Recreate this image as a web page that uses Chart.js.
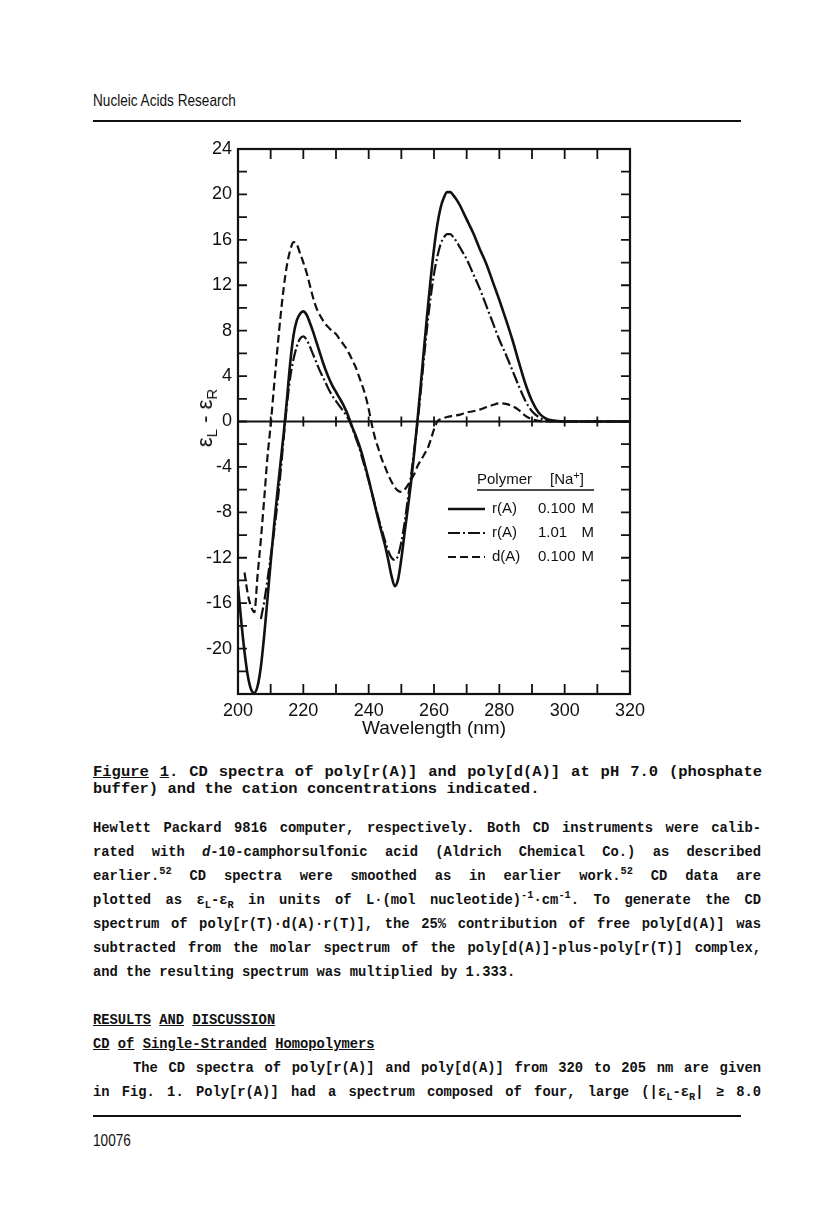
<!DOCTYPE html>
<html lang="en">
<head>
<meta charset="UTF-8">
<title>CD spectra of poly[r(A)] and poly[d(A)]</title>
<script src="https://cdn.jsdelivr.net/npm/chart.js"></script>
<style>
  body { margin: 0; background: #fff; }
  .page { position: relative; width: 816px; height: 1223px; overflow: hidden; color: #111; }
  .head { position: absolute; left: 93px; font-family: 'Liberation Sans', Arial, sans-serif; font-size: 17px;
          transform: scaleX(0.8); transform-origin: left center; white-space: nowrap; }
  .rule { position: absolute; left: 93px; width: 648px; height: 2px; background: #111; }
  .chart-box { position: absolute; left: 150px; top: 130px; width: 520px; height: 620px; }
  .ytitle { position: absolute; left: 205px; top: 418px; font-family: 'Liberation Sans', Arial, sans-serif;
            font-size: 22px; white-space: nowrap; transform: translate(-50%, -50%) rotate(-90deg); }
  .ytitle sub { font-size: 15px; line-height: 0; }
  .tw { font-family: 'Liberation Mono', 'Courier New', monospace; font-weight: bold; }
  .caption { position: absolute; left: 93px; top: 764px; width: 669px; font-size: 15.5px; line-height: 17px; }
  .text { position: absolute; left: 93px; top: 817px; width: 668px; font-size: 13.8px; line-height: 24px; }
  .j { text-align: justify; text-align-last: justify; }
  .tw sup, .tw sub { font-size: 0.75em; line-height: 0; }
</style>
</head>
<body>
<div class="page">
  <div class="head" style="top: 91px;">Nucleic Acids Research</div>
  <div class="rule" style="top: 120px;"></div>

  <!-- Figure 1 -->
  <div class="chart-box"><canvas id="cdChart" width="520" height="620"></canvas></div>
  <div class="ytitle">&epsilon;<sub>L</sub> - &epsilon;<sub>R</sub></div>

  <div class="caption tw">
    <div class="j"><u>Figure</u> <u>1</u>. CD spectra of poly[r(A)] and poly[d(A)] at pH 7.0 (phosphate</div>
    <div>buffer) and the cation concentrations indicated.</div>
  </div>

  <div class="text tw">
    <div class="j">Hewlett Packard 9816 computer, respectively. Both CD instruments were calib-</div>
    <div class="j">rated with <i>d</i>-10-camphorsulfonic acid (Aldrich Chemical Co.) as described</div>
    <div class="j">earlier.<sup>52</sup> CD spectra were smoothed as in earlier work.<sup>52</sup> CD data are</div>
    <div class="j">plotted as &epsilon;<sub>L</sub>-&epsilon;<sub>R</sub> in units of L&middot;(mol nucleotide)<sup>-1</sup>&middot;cm<sup>-1</sup>. To generate the CD</div>
    <div class="j">spectrum of poly[r(T)&middot;d(A)&middot;r(T)], the 25% contribution of free poly[d(A)] was</div>
    <div class="j">subtracted from the molar spectrum of the poly[d(A)]-plus-poly[r(T)] complex,</div>
    <div>and the resulting spectrum was multiplied by 1.333.</div>
    <div>&nbsp;</div>
    <div><u>RESULTS</u> <u>AND</u> <u>DISCUSSION</u></div>
    <div><u>CD</u> <u>of</u> <u>Single-Stranded</u> <u>Homopolymers</u></div>
    <div class="j" style="text-indent: 40px;">The CD spectra of poly[r(A)] and poly[d(A)] from 320 to 205 nm are given</div>
    <div class="j">in Fig. 1. Poly[r(A)] had a spectrum composed of four, large (|&epsilon;<sub>L</sub>-&epsilon;<sub>R</sub>| &ge; 8.0</div>
  </div>

  <div class="rule" style="top: 1115px;"></div>
  <div class="head" style="top: 1131px;">10076</div>
</div>

<script>
// wavelength (nm) and eL - eR values
const rA100Wl = [200, 201, 202, 203, 204, 205, 206, 207, 208, 209, 210, 211, 212, 213, 214, 215, 216, 217, 218, 219,
                 220, 221, 222, 223, 224, 225, 226, 227, 228, 229, 230, 231, 232, 233, 234, 235, 236, 237, 238, 239,
                 240, 241, 242, 243, 244, 245, 246, 247, 248, 249, 250, 251, 252, 253, 254, 255, 256, 257, 258, 259,
                 260, 261, 262, 263, 264, 265, 266, 267, 268, 269, 270, 272, 274, 276, 278, 280, 282, 284, 286, 288,
                 290, 292, 294, 296, 300, 310, 320];
const rA100 = [-14.5, -17.6, -20.3, -22.4, -23.6, -23.9, -23.3, -21.6, -18.9, -15.7, -12.4, -9.3, -6.4, -3.7, -1.0, 2.0, 5.2, 7.6, 8.9, 9.5,
               9.7, 9.4, 8.7, 7.9, 7.0, 6.1, 5.2, 4.4, 3.7, 3.1, 2.6, 2.1, 1.6, 1.0, 0.3, -0.5, -1.2, -2.0, -2.9, -4.0,
               -5.1, -6.3, -7.5, -8.7, -9.8, -10.9, -12.2, -13.6, -14.5, -13.9, -12.1, -9.8, -7.6, -5.3, -2.6, 0.3, 3.4, 6.6, 9.7, 12.6,
               15.2, 17.3, 18.8, 19.7, 20.2, 20.2, 19.9, 19.5, 19.0, 18.4, 17.8, 16.6, 15.2, 13.9, 12.3, 10.7, 9.0, 7.2, 5.2, 3.3,
               1.8, 0.8, 0.3, 0.1, 0, 0, 0];

const rA101Wl = [207, 208, 209, 210, 211, 212, 213, 214, 215, 216, 217, 218, 219, 220, 221, 222, 223, 224, 225, 226,
                 227, 228, 229, 230, 231, 232, 233, 234, 235, 236, 237, 238, 239, 240, 241, 242, 243, 244, 245, 246,
                 247, 248, 249, 250, 251, 252, 253, 254, 255, 256, 257, 258, 259, 260, 261, 262, 263, 264, 265, 266,
                 267, 268, 269, 270, 272, 274, 276, 278, 280, 282, 284, 286, 288, 290, 292, 294, 296, 300, 320];
const rA101 = [-17.4, -15.9, -14.0, -11.9, -9.8, -7.4, -4.6, -1.4, 1.5, 3.9, 5.5, 6.6, 7.3, 7.5, 7.2, 6.6, 5.9, 5.2, 4.5, 3.9,
               3.3, 2.7, 2.2, 1.8, 1.4, 1.0, 0.6, 0.1, -0.6, -1.4, -2.2, -3.2, -4.2, -5.2, -6.3, -7.4, -8.5, -9.5, -10.5, -11.4,
               -12.0, -12.2, -11.8, -10.6, -8.9, -6.8, -4.7, -2.4, 0.0, 2.8, 5.8, 8.6, 11.0, 13.0, 14.5, 15.6, 16.2, 16.5, 16.5, 16.2,
               15.8, 15.3, 14.8, 14.3, 13.0, 11.7, 10.2, 8.7, 7.2, 5.9, 4.5, 3.1, 1.8, 0.9, 0.4, 0.1, 0.0, 0, 0];

const dA100Wl = [202, 203, 204, 205, 206, 207, 208, 209, 210, 211, 212, 213, 214, 215, 216, 217, 218, 219, 220, 221,
                 222, 223, 224, 225, 226, 227, 228, 229, 230, 231, 232, 233, 234, 235, 236, 237, 238, 239, 240, 241,
                 242, 243, 244, 245, 246, 247, 248, 249, 250, 251, 252, 253, 254, 255, 256, 257, 258, 259, 260, 261,
                 262, 264, 266, 268, 270, 272, 274, 276, 278, 280, 282, 284, 286, 288, 290, 292, 294, 300, 320];
const dA100 = [-13.3, -15.2, -16.3, -16.8, -13.5, -10.4, -6.9, -3.2, -0.3, 3.0, 6.2, 9.2, 11.8, 13.8, 15.1, 15.8, 15.6, 14.8, 14.0, 13.1,
               12.0, 10.9, 10.0, 9.4, 8.9, 8.5, 8.2, 7.9, 7.7, 7.3, 6.9, 6.5, 6.0, 5.4, 4.8, 4.0, 3.2, 2.3, 1.1, -0.3,
               -1.5, -2.4, -3.3, -4.0, -4.7, -5.3, -5.8, -6.1, -6.2, -6.0, -5.6, -5.1, -4.6, -3.9, -3.4, -2.9, -2.4, -1.6, -0.7, 0.0,
               0.2, 0.4, 0.5, 0.6, 0.8, 0.9, 1.05, 1.25, 1.45, 1.6, 1.55, 1.35, 1.0, 0.5, 0.2, 0.05, 0, 0, 0];

const polymers = ['r(A)', 'r(A)', 'd(A)'];
const naConc = ['0.100', '1.01', '0.100'];

const INK = '#111';
const FONT = '"Liberation Sans", Arial, sans-serif';

function toPoints(xs, ys) {
    return xs.map((x, i) => ({ x: x, y: ys[i] }));
}

// box, inward ticks, zero line and the legend
const framePlugin = {
    id: 'frame',
    afterDatasetsDraw(chart) {
        const { ctx, chartArea: a, scales: { x, y } } = chart;
        const y0 = y.getPixelForValue(0);
        ctx.save();
        ctx.strokeStyle = INK;
        ctx.lineWidth = 2.2;
        ctx.strokeRect(a.left, a.top, a.right - a.left, a.bottom - a.top);
        ctx.beginPath();
        ctx.moveTo(a.left, y0);
        ctx.lineTo(a.right, y0);
        ctx.stroke();

        ctx.lineWidth = 1.8;
        ctx.beginPath();
        y.ticks.forEach(t => {
            const py = y.getPixelForValue(t.value);
            ctx.moveTo(a.left, py); ctx.lineTo(a.left + 9, py);
            ctx.moveTo(a.right, py); ctx.lineTo(a.right - 9, py);
        });
        x.ticks.forEach(t => {
            const px = x.getPixelForValue(t.value);
            ctx.moveTo(px, a.top); ctx.lineTo(px, a.top + 10);
            ctx.moveTo(px, a.bottom); ctx.lineTo(px, a.bottom - 10);
            ctx.moveTo(px, y0 - 5); ctx.lineTo(px, y0 + 5);
        });
        ctx.stroke();

        // legend
        const hx = a.left + 239;
        const sx = a.left + 210;
        const cx = a.left + 300;
        const rx = a.left + 356;
        ctx.fillStyle = INK;
        ctx.textBaseline = 'middle';
        ctx.font = '15px ' + FONT;
        ctx.textAlign = 'left';
        ctx.fillText('Polymer', hx, a.top + 331);
        let nx = a.left + 312;
        ctx.fillText('[Na', nx, a.top + 331);
        nx += ctx.measureText('[Na').width;
        ctx.font = '11px ' + FONT;
        ctx.fillText('+', nx, a.top + 327);
        nx += ctx.measureText('+').width;
        ctx.font = '15px ' + FONT;
        ctx.fillText(']', nx, a.top + 331);
        ctx.lineWidth = 1.5;
        ctx.beginPath();
        ctx.moveTo(hx, a.top + 341);
        ctx.lineTo(rx, a.top + 341);
        ctx.stroke();

        chart.data.datasets.forEach((ds, i) => {
            const ry = a.top + 360 + i * 24;
            ctx.lineWidth = ds.borderWidth;
            ctx.setLineDash(ds.borderDash || []);
            ctx.beginPath();
            ctx.moveTo(sx, ry);
            ctx.lineTo(sx + 37, ry);
            ctx.stroke();
            ctx.setLineDash([]);
            ctx.textAlign = 'left';
            ctx.fillText(polymers[i], sx + 44, ry);
            ctx.fillText(naConc[i], cx, ry);
            ctx.textAlign = 'right';
            ctx.fillText('M', rx, ry);
        });
        ctx.restore();
    }
};

Chart.defaults.font.family = FONT;
Chart.defaults.color = INK;

const ctx = document.getElementById('cdChart').getContext('2d');
new Chart(ctx, {
    type: 'line',
    data: {
        datasets: [
            { label: 'r(A) 0.100 M', data: toPoints(rA100Wl, rA100), borderColor: INK, borderWidth: 2.6,
              borderDash: [], pointRadius: 0, cubicInterpolationMode: 'monotone' },
            { label: 'r(A) 1.01 M', data: toPoints(rA101Wl, rA101), borderColor: INK, borderWidth: 2.2,
              borderDash: [12, 3, 2, 3], pointRadius: 0, cubicInterpolationMode: 'monotone' },
            { label: 'd(A) 0.100 M', data: toPoints(dA100Wl, dA100), borderColor: INK, borderWidth: 2.2,
              borderDash: [8, 4], pointRadius: 0, cubicInterpolationMode: 'monotone' }
        ]
    },
    options: {
        responsive: false,
        animation: false,
        layout: { padding: { top: 19, right: 40, left: 0, bottom: 0 } },
        plugins: { legend: { display: false }, tooltip: { enabled: false } },
        scales: {
            x: {
                type: 'linear', min: 200, max: 320,
                grid: { display: false, drawTicks: false },
                border: { display: false },
                ticks: { stepSize: 10, autoSkip: false, maxRotation: 0, padding: 6, font: { size: 18 },
                         callback: v => (v % 20 === 0 ? v : '') },
                title: { display: true, text: 'Wavelength (nm)', font: { size: 19 }, padding: { top: 0, bottom: 10 } },
                afterFit: s => { s.height = 56; }
            },
            y: {
                min: -24, max: 24,
                grid: { display: false, drawTicks: false },
                border: { display: false },
                ticks: { stepSize: 2, autoSkip: false, padding: 6, font: { size: 18 },
                         callback: v => (v % 4 === 0 && v !== -24 ? v : '') },
                afterFit: s => { s.width = 88; }
            }
        }
    },
    plugins: [framePlugin]
});
</script>
</body>
</html>
